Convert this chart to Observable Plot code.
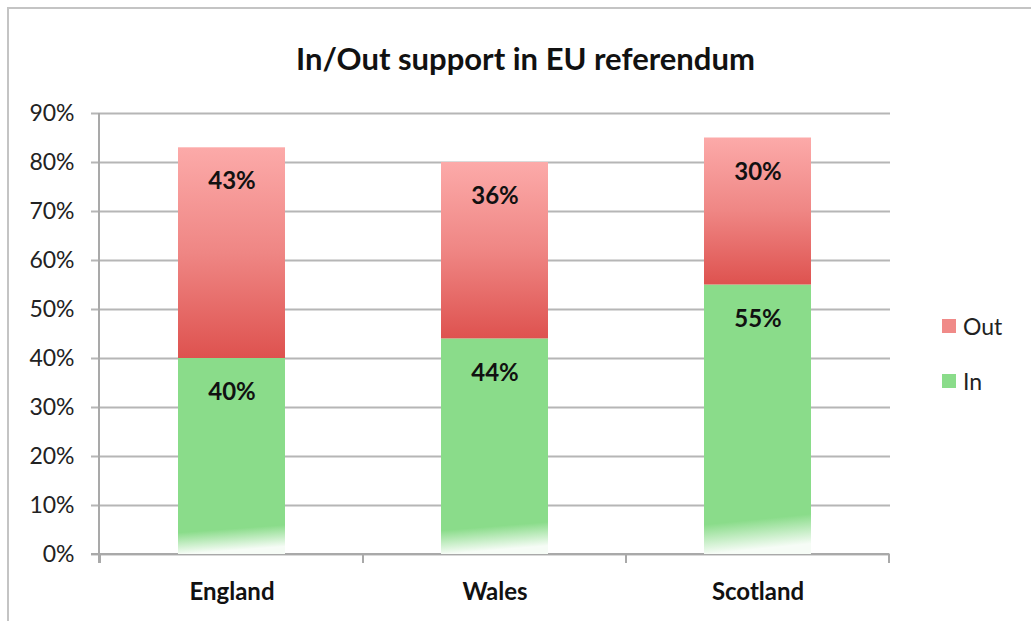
<!DOCTYPE html>
<html>
<head>
<meta charset="utf-8">
<script src="https://cdn.jsdelivr.net/npm/d3@7"></script>
<script src="https://cdn.jsdelivr.net/npm/@observablehq/plot@0.6"></script>
<style>
  html, body { margin: 0; padding: 0; background: #fff; }
  #wrap { position: relative; width: 1031px; height: 621px; overflow: hidden; font-family: Lato, "Open Sans", sans-serif; }
  #frame { position: absolute; left: 7px; top: 7px; width: 1030px; height: 620px; border-left: 2px solid #c4c4c4; border-top: 2px solid #c4c4c4; box-sizing: border-box; }
  #title { position: absolute; left: 10px; width: 1031px; top: 39px; text-align: center; font-size: 31px; font-weight: 700; color: #111; }
  #legend { position: absolute; left: 942px; top: 311px; font-size: 23px; color: #222; }
  .li { display: flex; align-items: center; height: 30px; margin-bottom: 25px; }
  .sw { width: 14px; height: 14px; margin-right: 7px; }
  #chart { position: absolute; left: 0; top: 0; }
</style>
</head>
<body>
<div id="wrap">
  <div id="frame"></div>
  <div id="title">In/Out support in EU referendum</div>
  <div id="chart"></div>
  <div id="legend"></div>
</div>
<script>
const regions = ["England", "Wales", "Scotland"];
const inValues = [0.40, 0.44, 0.55];
const outValues = [0.43, 0.36, 0.30];
const seriesNames = ["Out", "In"];
const yTicks = [0, 0.1, 0.2, 0.3, 0.4, 0.5, 0.6, 0.7, 0.8, 0.9];

const rows = [];
regions.forEach((r, i) => {
  rows.push({region: r, series: "In", y1: 0, y2: inValues[i], v: inValues[i]});
  rows.push({region: r, series: "Out", y1: inValues[i], y2: inValues[i] + outValues[i], v: outValues[i]});
});

const pInner = 0.594, pOuter = 0.297;

// category boundary ticks, computed from the band scale
function boundaryTicks(index, scales, values, dims) {
  const x = scales.x, y = scales.y;
  const step = x.step ? x.step() : (dims.width - dims.marginLeft - dims.marginRight) / regions.length;
  const bw = x.bandwidth();
  const g = d3.create("svg:g").attr("stroke", "#a9a9a9").attr("stroke-width", 2);
  const y0 = y(0);
  const xs = regions.map(r => x(r) + bw / 2 - step / 2);
  xs.push(x(regions[regions.length - 1]) + bw / 2 + step / 2);
  xs.forEach(px => g.append("line").attr("x1", px).attr("x2", px).attr("y1", y0).attr("y2", y0 + 9));
  g.append("line").attr("x1", dims.marginLeft - 8).attr("x2", xs[xs.length - 1]).attr("y1", y0).attr("y2", y0);
  g.append("line").attr("x1", dims.marginLeft).attr("x2", dims.marginLeft).attr("y1", y(0.9)).attr("y2", y0 + 9);
  return g.node();
}

const chart = Plot.plot({
  width: 1031,
  height: 621,
  marginTop: 113,
  marginBottom: 67,
  marginLeft: 99,
  marginRight: 141,
  style: {fontFamily: "Lato, 'Open Sans', sans-serif", background: "transparent"},
  x: {domain: regions, paddingInner: pInner, paddingOuter: pOuter, label: null},
  y: {domain: [0, 0.9], label: null},
  marks: [
    Plot.ruleY(yTicks, {stroke: "#b6b6b6", strokeWidth: 2.2,
      render: (i, s, v, d, c, next) => {
        const el = next(i, s, v, d, c);
        d3.select(el).selectAll("line").attr("x1", d.marginLeft - 8).attr("x2", d.width - d.marginRight);
        return el;
      }}),
    Plot.axisY({ticks: yTicks, tickFormat: d3.format(".0%"), tickSize: 0, tickPadding: 25,
      fontSize: 23, fill: "#222", stroke: null}),
    Plot.axisX({tickSize: 0, tickPadding: 28, fontSize: 24, fontWeight: "bold", fill: "#111"}),
    boundaryTicks,
    Plot.rectY(rows, {x: "region", y1: "y1", y2: "y2",
      fill: d => d.series === "Out" ? "url(#gOut)" : "url(#gIn)"}),
    Plot.text(rows, {x: "region", y: "y2", dy: 34, text: d => d3.format(".0%")(d.v),
      fontSize: 24, fontWeight: "bold", fill: "#111"})
  ]
});

const defs = d3.select(chart).insert("defs", ":first-child");
const gOut = defs.append("linearGradient").attr("id", "gOut").attr("x1", 0).attr("y1", 0).attr("x2", 0).attr("y2", 1);
gOut.append("stop").attr("offset", "0%").attr("stop-color", "#fcaaa9");
gOut.append("stop").attr("offset", "50%").attr("stop-color", "#ef8684");
gOut.append("stop").attr("offset", "100%").attr("stop-color", "#de524f");
const gIn = defs.append("linearGradient").attr("id", "gIn").attr("x1", 0).attr("y1", 0).attr("x2", 0.04).attr("y2", 1);
gIn.append("stop").attr("offset", "0%").attr("stop-color", "#8adc8a");
gIn.append("stop").attr("offset", "89%").attr("stop-color", "#8adc8a");
gIn.append("stop").attr("offset", "100%").attr("stop-color", "#f6fcf6");

document.getElementById("chart").appendChild(chart);

const legendColors = {Out: "#f08a88", In: "#8adc8a"};
const leg = document.getElementById("legend");
seriesNames.forEach(s => {
  const row = document.createElement("div");
  row.className = "li";
  row.innerHTML = `<div class="sw" style="background:${legendColors[s]}"></div><span>${s}</span>`;
  leg.appendChild(row);
});
</script>
</body>
</html>
